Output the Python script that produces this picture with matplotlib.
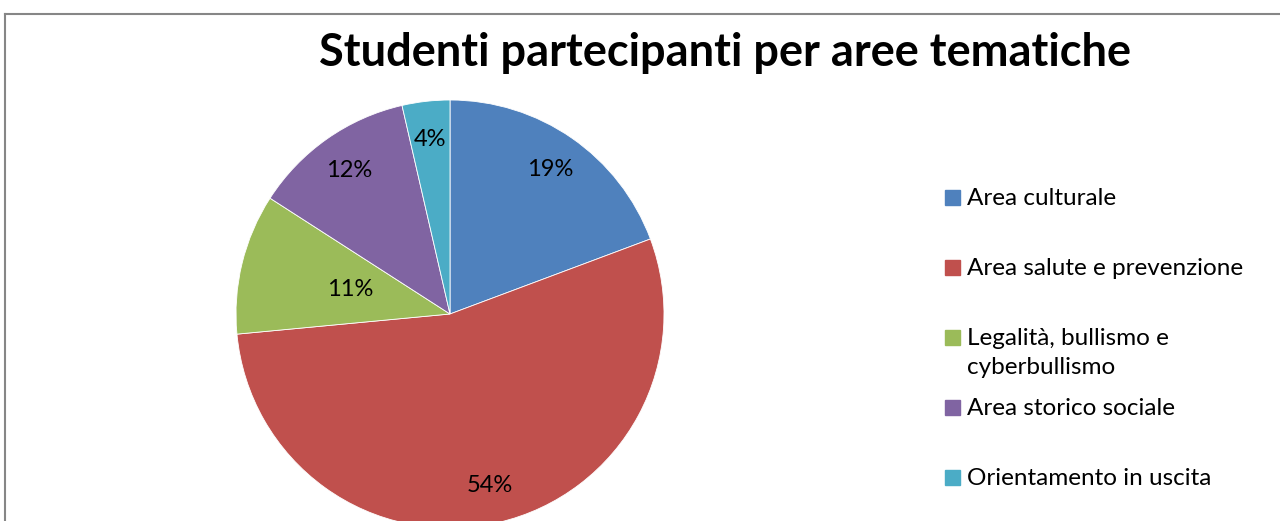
import matplotlib
matplotlib.use("Agg")
import numpy as np
import matplotlib.pyplot as plt
from matplotlib.patches import Rectangle
from matplotlib.lines import Line2D

plt.rcParams['font.family'] = ['Lato', 'DejaVu Sans']

labels = ["Area culturale", "Area salute e prevenzione",
          "Legalità, bullismo e\ncyberbullismo", "Area storico sociale",
          "Orientamento in uscita"]
values = [19.3, 54.2, 10.6, 12.3, 3.6]
colors = ["#4F81BD", "#C0504D", "#9BBB59", "#8064A2", "#4BACC6"]

W, H = 1280, 521
fig = plt.figure(figsize=(W / 100, H / 100), dpi=100)

# pie centre (450, 314) px from top, radius 214 px
cx, cy, r = 450, 314, 214
ax = fig.add_axes([(cx - r) / W, (H - cy - r) / H, 2 * r / W, 2 * r / H])
wedges, texts, autotexts = ax.pie(
    values, colors=colors, startangle=90, counterclock=False,
    autopct='%1.0f%%', pctdistance=0.82,
    textprops={'fontsize': 17, 'color': 'black'},
    wedgeprops={'linewidth': 0.6, 'edgecolor': 'white'})

# the small green label sits closer to the centre in the original
w = wedges[2]
mid = np.deg2rad((w.theta1 + w.theta2) / 2)
autotexts[2].set_position((0.48 * np.cos(mid), 0.48 * np.sin(mid)))

ax.set_xlim(-1, 1)
ax.set_ylim(-1, 1)
ax.set_aspect('auto')
ax.axis('off')

fig.text(725 / W, 1 - 53 / H, "Studenti partecipanti per aree tematiche",
         ha='center', va='center', fontsize=32.5, fontweight='bold')

# legend, equal slots as in the original
for i, (lab, col) in enumerate(zip(labels, colors)):
    ytop = 198 + 70 * i
    fig.patches.append(Rectangle((945 / W, 1 - (ytop + 7) / H), 15 / W, 15 / H,
                                 transform=fig.transFigure, color=col))
    fig.text(967 / W, 1 - (ytop - 10) / H, lab, ha='left', va='top',
             fontsize=17.5, linespacing=1.45)

# frame around the chart area
fig.add_artist(Line2D([5 / W, 5 / W], [0, 1 - 14 / H], color='#868686', lw=1.5,
                      transform=fig.transFigure))
fig.add_artist(Line2D([5 / W, 1], [1 - 14 / H, 1 - 14 / H], color='#868686', lw=1.5,
                      transform=fig.transFigure))

fig.savefig("out.png", dpi=100)
